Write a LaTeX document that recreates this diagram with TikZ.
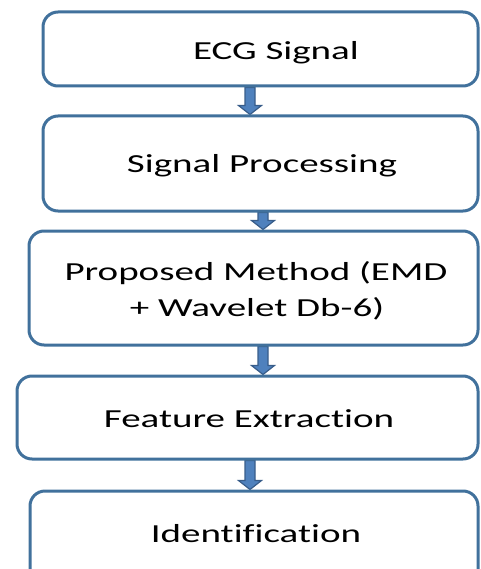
\documentclass[tikz,border=0pt]{standalone}
\usepackage{fontspec}
\newfontfamily\lblfont[FakeStretch=1.5,Ligatures={NoCommon}]{Carlito}
\usetikzlibrary{calc,backgrounds}
\definecolor{boxline}{RGB}{65,113,156}
\definecolor{arrfill}{RGB}{79,129,189}
\definecolor{arrline}{RGB}{56,93,138}
\tikzset{
  stage/.style={draw=boxline, line width=3pt, rounded corners=15pt, fill=white,
    inner sep=0pt},
  lbl/.style={font=\lblfont\fontsize{26}{30}\selectfont, inner sep=0pt,
    anchor=base, text=black},
  blockarr/.style={fill=arrfill, draw=arrline, line width=1.2pt, line join=miter}
}
% block arrow pointing down from #1 to #2
\newcommand\blockarrow[2]{%
  \draw[blockarr] let \p1=(#1), \p2=(#2) in
    (\x1-5pt,\y1) -- (\x1+5pt,\y1) -- (\x1+5pt,\y2+9pt) -- (\x1+11.5pt,\y2+9pt)
    -- (\x1,\y2) -- (\x1-11.5pt,\y2+9pt) -- (\x1-5pt,\y2+9pt) -- cycle;}
\begin{document}
\begin{tikzpicture}[x=1pt,y=-1pt]
  \useasboundingbox (0,0) rectangle (480,569);
  \clip (0,0) rectangle (480,569);

  % stages
  \node[stage, minimum width=435pt, minimum height=74pt]  (b1) at (260.5,49) {};
  \node[stage, minimum width=435pt, minimum height=95pt]  (b2) at (260.5,163.5) {};
  \node[stage, minimum width=449pt, minimum height=114pt] (b3) at (253.5,288) {};
  \node[stage, minimum width=461pt, minimum height=83pt]  (b4) at (247.5,417.5) {};
  \node[stage, minimum width=448pt, minimum height=99pt]  (b5) at (254,540.5) {};

  % labels
  \node[lbl] (t1)  at (276,60)  {ECG Signal};
  \node[lbl] (t2)  at (262,173) {Signal Processing};
  \node[lbl] (t3a) at (256,280) {Proposed Method (EMD};
  \node[lbl] (t3b) at (257,316) {+ Wavelet Db-6)};
  \node[lbl] (t4)  at (249,427) {Feature Extraction};
  \node[lbl] (t5)  at (256,542) {Identification};

  % arrow columns
  \coordinate (xa) at (250,0);
  \coordinate (xb) at (263,0);

  \begin{scope}[on background layer]
    \blockarrow{b1.south -| xa}{b2.north -| xa}
    \blockarrow{b2.south -| xb}{b3.north -| xb}
    \blockarrow{b3.south -| xb}{b4.north -| xb}
    \blockarrow{b4.south -| xa}{b5.north -| xa}
  \end{scope}
\end{tikzpicture}
\end{document}
